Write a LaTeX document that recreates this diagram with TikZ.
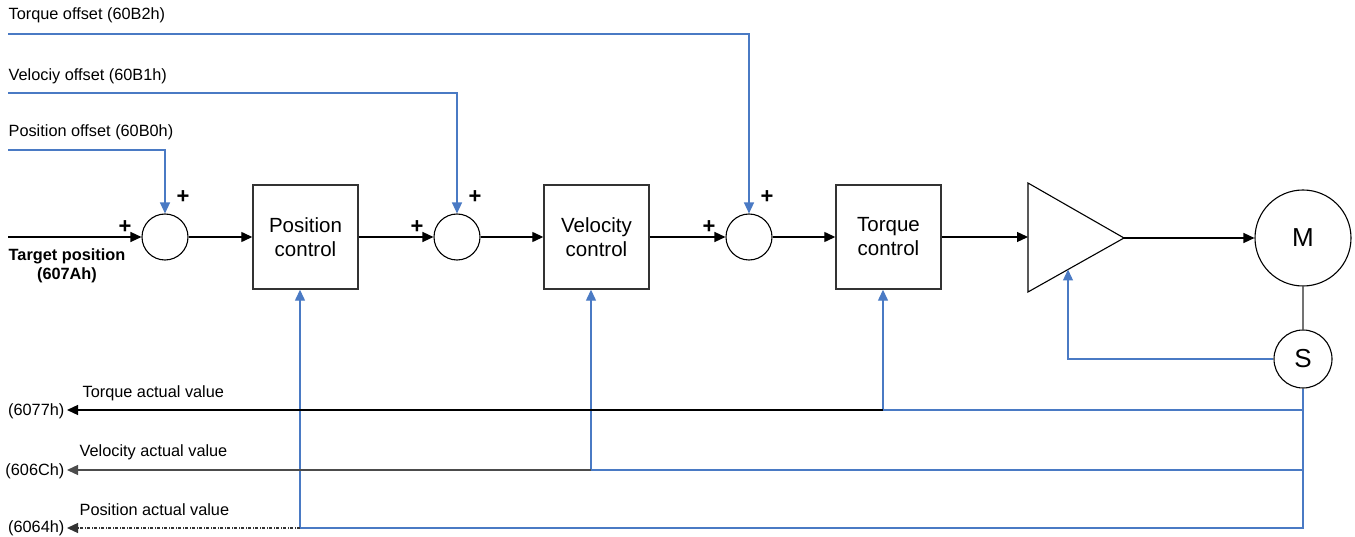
\documentclass[tikz,border=0pt]{standalone}
\usepackage{fontspec}
\setmainfont{Liberation Sans}
\usetikzlibrary{arrows.meta}
\definecolor{lblue}{RGB}{74,122,196}
\definecolor{lblue2}{RGB}{120,160,215}
\newcommand\smfnt{\fontsize{16.3}{19}\selectfont}
\newcommand\boxfnt{\fontsize{20.5}{24}\selectfont}
\newcommand\plusfnt{\fontsize{22}{24}\selectfont\bfseries}
\newcommand\motfnt{\fontsize{26}{28}\selectfont}
\begin{document}
\begin{tikzpicture}[x=1pt,y=-1pt,
  line width=1.3pt,
  arr/.style={-{Triangle[length=11pt,width=10pt]},black},
  barr/.style={-{Triangle[length=11pt,width=10pt]},lblue},
  bline/.style={lblue},
  sumnode/.style={circle,draw=black,line width=1.1pt,minimum size=46pt,inner sep=0pt},
  ctrl/.style={rectangle,draw=black!80,line width=1.4pt,minimum width=105pt,minimum height=104pt,inner sep=0pt,align=center,font=\boxfnt},
  lbl/.style={inner sep=0pt,font=\smfnt},
  plus/.style={inner sep=0pt,font=\plusfnt},
  motor/.style={circle,draw=black,line width=1.1pt,inner sep=0pt,font=\motfnt}]
\useasboundingbox (0,0) rectangle (1355,537);

% texts
\node[lbl,anchor=west] (tot) at (8,15) {Torque offset (60B2h)};
\node[lbl,anchor=west] (vot) at (8,76) {Velociy offset (60B1h)};
\node[lbl,anchor=west] (pot) at (8,132) {Position offset (60B0h)};
\node[lbl,align=center,font=\smfnt\bfseries] (tgt) at (67,266) {Target position\\(607Ah)};

% main nodes
\node[sumnode] (s1) at (165,237) {};
\node[sumnode] (s2) at (457,237) {};
\node[sumnode] (s3) at (749,237) {};
\node[ctrl] (pc) at (305.5,237) {Position\\control};
\node[ctrl] (vc) at (596.5,237) {Velocity\\control};
\node[ctrl] (tc) at (888.5,237) {Torque\\control};
\node[motor,minimum size=96pt] (M) at (1303,238) {M};
\node[motor,minimum size=58pt] (S) at (1303,359) {S};

% amplifier triangle
\coordinate (a1) at (1028,183);
\coordinate (a2) at (1028,292);
\coordinate (atip) at (1124,238);
\coordinate (ain) at (1028,237);
\coordinate (afb) at (1068,269.5);
\draw[line width=1.1pt] (a1) -- (atip) -- (a2) -- cycle;

% plus signs
\node[plus] (p1a) at (125,227) {+};
\node[plus] (p1b) at (183,197) {+};
\node[plus] (p2a) at (417,227) {+};
\node[plus] (p2b) at (475,197) {+};
\node[plus] (p3a) at (709,227) {+};
\node[plus] (p3b) at (767,197) {+};

% forward path
\coordinate (in) at (8,237);
\draw[arr] (in) -- (s1.west);
\draw[arr] (s1.east) -- (pc.west);
\draw[arr] (pc.east) -- (s2.west);
\draw[arr] (s2.east) -- (vc.west);
\draw[arr] (vc.east) -- (s3.west);
\draw[arr] (s3.east) -- (tc.west);
\draw[arr] (tc.east) -- (ain);
\draw[arr] (atip) -- (M.west);
\draw[black!55,line width=1.3pt] (M.south) -- (S.north);

% offsets
\coordinate (po) at (8,150);
\coordinate (vo) at (8,93);
\coordinate (to) at (8,34);
\draw[barr] (po) -| (s1.north);
\draw[barr] (vo) -| (s2.north);
\draw[barr] (to) -| (s3.north);

% amplifier feedback
\draw[barr] (S.west) -| (afb);

% feedback lines
\coordinate (fbT) at (883,410);
\coordinate (fbV) at (591,470);
\coordinate (fbP) at (300,528);
\coordinate (endT) at (67,410);
\coordinate (endV) at (67,470);
\coordinate (endP) at (67,528);
\draw[bline] (S.south) |- (fbT);
\draw[bline] (S.south) |- (fbV);
\draw[bline] (S.south) |- (fbP);
\draw[barr] (fbT) -- (fbT |- tc.south);
\draw[barr] (fbV) -- (fbV |- vc.south);
\draw[barr] (fbP) -- (fbP |- pc.south);
\draw[arr] (fbT) -- (endT);
\draw[-{Triangle[length=11pt,width=10pt]},black!70] (fbV) -- (endV);
\draw[-{Triangle[length=11pt,width=10pt]},black!80,dash pattern=on 3pt off 1.5pt on 1pt off 1.5pt] (fbP) -- (endP);

\node[lbl,anchor=west] (tav) at (82,393) {Torque actual value};
\node[lbl,anchor=west] (vav) at (79,452) {Velocity actual value};
\node[lbl,anchor=west] (pav) at (79,510) {Position actual value};
\node[lbl,anchor=east] (t77) at (65,411) {(6077h)};
\node[lbl,anchor=east] (v6c) at (65,471) {(606Ch)};
\node[lbl,anchor=east] (p64) at (65,528) {(6064h)};
\end{tikzpicture}
\end{document}
